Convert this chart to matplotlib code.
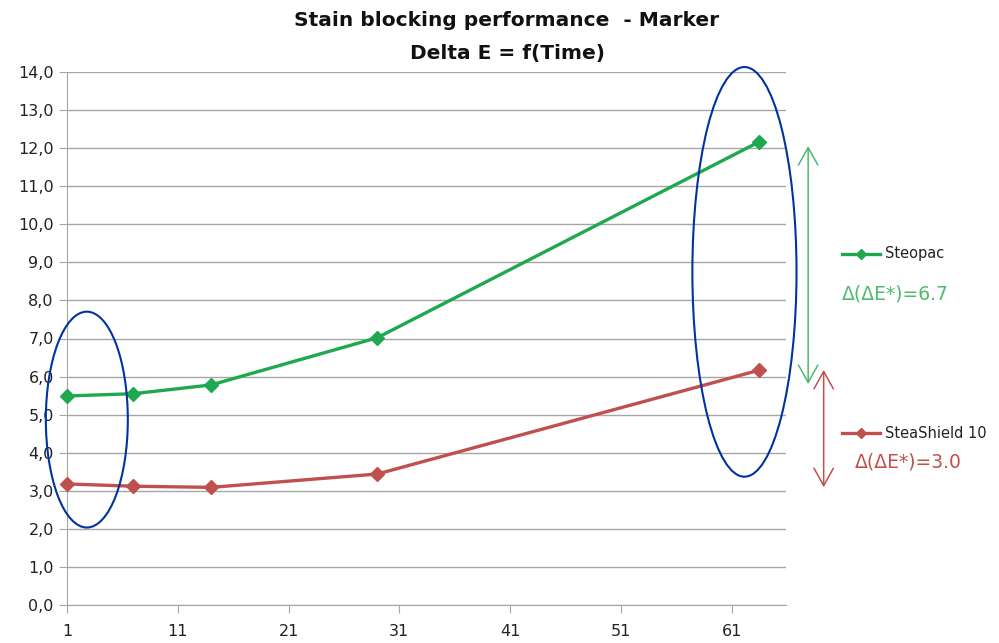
import numpy as np
import matplotlib
matplotlib.use("Agg")
import matplotlib.pyplot as plt
from matplotlib.patches import Ellipse
from matplotlib.lines import Line2D

plt.rcParams['font.family'] = ['DejaVu Sans']

# data
days = [1, 7, 14, 29, 63.5]
steopac = [5.49, 5.55, 5.78, 7.02, 12.17]
steashield = [3.18, 3.12, 3.09, 3.44, 6.17]
xticks = [1, 11, 21, 31, 41, 51, 61]
yticks = np.arange(0, 15, 1)

green = '#1fa84f'
green_light = '#4cbb6e'
red = '#c0504d'
blue = '#0033a0'
grid_c = '#a6a6a6'

W, H = 999, 643
fig = plt.figure(figsize=(W / 100, H / 100), dpi=100)
ax = fig.add_axes([67 / W, 1 - 605 / H, (786 - 67) / W, (605 - 72) / H])

ax.plot(days, steopac, color=green, lw=2.4, marker='D', ms=7, zorder=3, clip_on=False)
ax.plot(days, steashield, color=red, lw=2.4, marker='D', ms=7, zorder=3, clip_on=False)

ax.set_xlim(1, 65.9)
ax.set_ylim(0, 14)
ax.set_xticks(xticks)
ax.set_yticks(yticks)
ax.set_yticklabels([('%.1f' % v).replace('.', ',') for v in yticks])
ax.grid(axis='y', color=grid_c, lw=1)
ax.set_axisbelow(True)
for s in ['top', 'right']:
    ax.spines[s].set_visible(False)
for s in ['left', 'bottom']:
    ax.spines[s].set_color(grid_c)
ax.tick_params(axis='both', color=grid_c, length=6, labelsize=11.5, labelcolor='#222222')
ax.tick_params(axis='x', pad=8)

# circled regions
ax.add_patch(Ellipse((2.79, 4.87), 7.4, 5.67, fill=False, ec=blue, lw=1.5, clip_on=False, zorder=4))
ax.add_patch(Ellipse((62.15, 8.75), 9.4, 10.76, fill=False, ec=blue, lw=1.5, clip_on=False, zorder=4))

# difference arrows
ax.annotate('', xy=(67.9, 12.13), xytext=(67.9, 5.73), annotation_clip=False,
            arrowprops=dict(arrowstyle='<->,head_length=0.45,head_width=0.25',
                            color=green_light, lw=1.1, mutation_scale=28))
ax.annotate('', xy=(69.3, 6.25), xytext=(69.3, 3.02), annotation_clip=False,
            arrowprops=dict(arrowstyle='<->,head_length=0.45,head_width=0.25',
                            color=red, lw=1.1, mutation_scale=28))

# hand placed legend
for y_px, col, lab in [(254, green, 'Steopac'), (433, red, 'SteaShield 10')]:
    yf = 1 - y_px / H
    fig.add_artist(Line2D([842 / W, 880 / W], [yf, yf], color=col, lw=2.4, transform=fig.transFigure))
    fig.add_artist(Line2D([861 / W], [yf], color=col, marker='D', ms=5.5, transform=fig.transFigure))
    fig.text(885 / W, yf, lab, fontsize=10.5, va='center', ha='left', color='#222222')

fig.text(842 / W, 1 - 294 / H, 'Δ(ΔE*)=6.7', fontsize=13.5, color=green_light, va='center', ha='left')
fig.text(855 / W, 1 - 462 / H, 'Δ(ΔE*)=3.0', fontsize=13.5, color=red, va='center', ha='left')

fig.text(507 / W, 1 - 20 / H, 'Stain blocking performance  - Marker', fontsize=14.5, fontweight='bold',
         ha='center', va='center', color='#111111')
fig.text(507 / W, 1 - 53 / H, 'Delta E = f(Time)', fontsize=14.5, fontweight='bold',
         ha='center', va='center', color='#111111')

fig.savefig('out.png', dpi=100)
